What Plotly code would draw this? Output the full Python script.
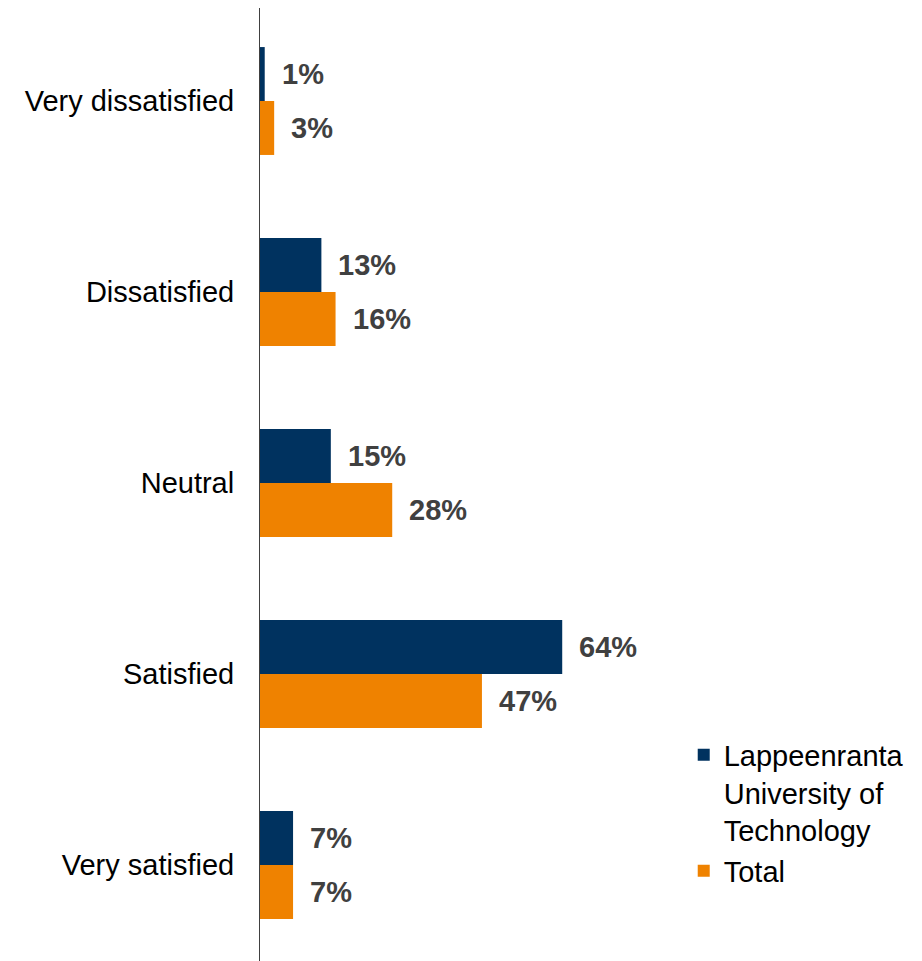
import plotly.graph_objects as go

categories = ["Very dissatisfied", "Dissatisfied", "Neutral", "Satisfied", "Very satisfied"]
lut_values = [1, 13, 15, 64, 7]
total_values = [3, 16, 28, 47, 7]
series_names = ["Lappeenranta<br>University of<br>Technology", "Total"]
colors = ["#00325F", "#EF8200"]

FONT = "Liberation Sans, Arial"

fig = go.Figure()
for name, vals, col in zip(series_names, [lut_values, total_values], colors):
    fig.add_trace(go.Bar(
        y=categories, x=vals, name=name, orientation="h",
        marker=dict(color=col, line=dict(width=0)),
    ))

# value labels next to bars
n = len(series_names)
for i, vals in enumerate([lut_values, total_values]):
    for j, (cat, v) in enumerate(zip(categories, vals)):
        fig.add_annotation(
            x=v, y=j + (i - (n - 1) / 2) * 0.283, xref="x", yref="y",
            text=f"<b>{v}%</b>", showarrow=False, xanchor="left", xshift=15,
            font=dict(size=29, color="#404040", family=FONT),
        )

fig.update_layout(
    width=922, height=961,
    margin=dict(l=252, r=245, t=0, b=8),
    barmode="group", bargap=0.435, bargroupgap=0,
    plot_bgcolor="white", paper_bgcolor="white",
    font=dict(family=FONT, size=29, color="#000000"),
    showlegend=True,
    legend=dict(x=0.997, y=0.243, xanchor="left", yanchor="top", valign="top",
                font=dict(size=29, color="#000000"), tracegroupgap=10,
                itemwidth=30, traceorder="normal", bgcolor="rgba(0,0,0,0)"),
)
fig.update_xaxes(range=[0, 90], visible=False, showgrid=False, zeroline=False)
fig.update_yaxes(range=[4.503, -0.487], showline=True, linecolor="#404040", linewidth=1,
                 ticks="", showgrid=False, ticklabelstandoff=19,
                 tickfont=dict(size=29, color="#000000"))

fig.write_html("out.html")
